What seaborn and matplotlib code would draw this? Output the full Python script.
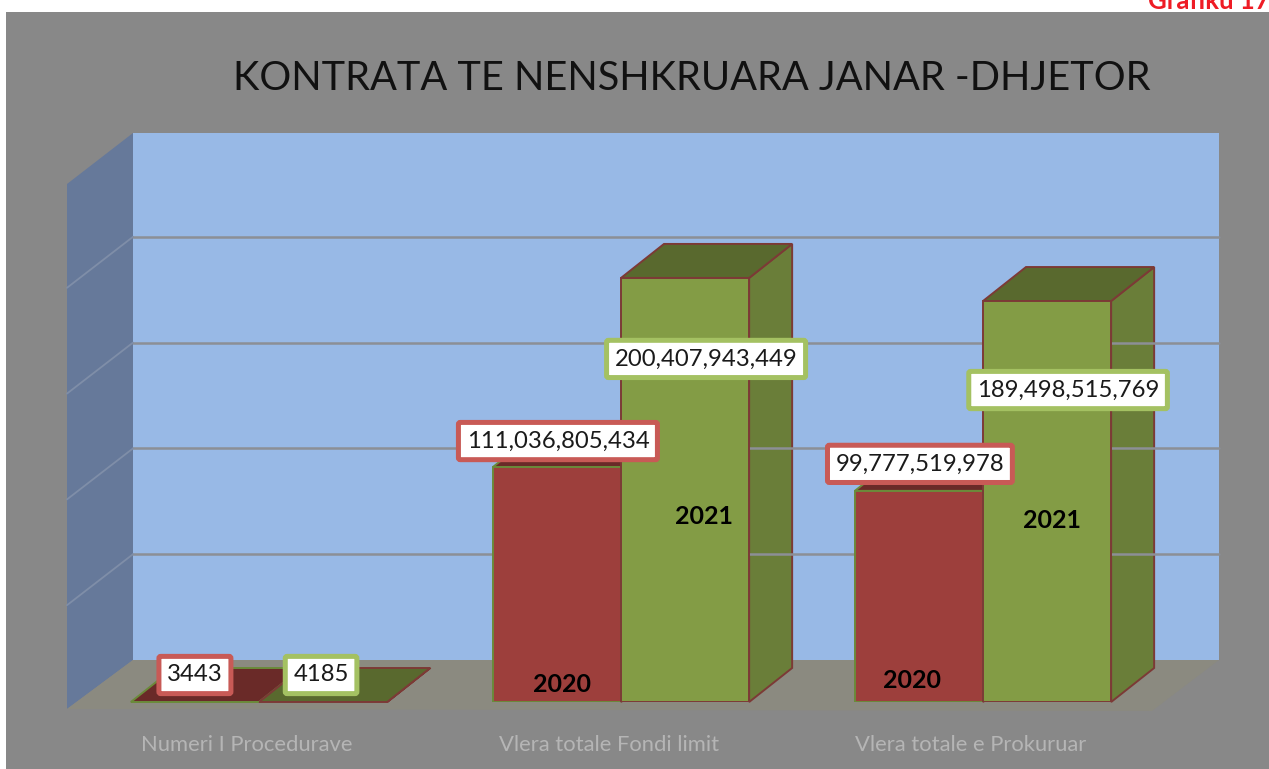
import matplotlib
matplotlib.use("Agg")
import matplotlib.pyplot as plt
from matplotlib.patches import Polygon, Rectangle
from matplotlib.transforms import ScaledTranslation
import pandas as pd
import seaborn as sns

# ===== datos =====
CATEGORIAS = ["Numeri I Procedurave", "Vlera totale Fondi limit", "Vlera totale e Prokuruar"]
VALORES_2020 = [3443, 111036805434, 99777519978]
VALORES_2021 = [4185, 200407943449, 189498515769]
ETIQUETAS_2020 = ["3443", "111,036,805,434", "99,777,519,978"]
ETIQUETAS_2021 = ["4185", "200,407,943,449", "189,498,515,769"]
TITULO = "KONTRATA TE NENSHKRUARA JANAR -DHJETOR"
GRAFIKU = "Grafiku 17"
Y_TICKS = [50e9, 100e9, 150e9, 200e9]

# ===== estilo / layout (en pixeles de la imagen) =====
W, H = 1269, 769
GRIS = "#888888"
PROF = (43, -34)        # profundidad de las barras
PARED = (133, 660, 1219)  # pared del fondo: x izq, y piso, x der
COL = {"2020": "#9d3f3c", "2021": "#839c45"}
TOP = {"2020": "#6a2a28", "2021": "#59692e"}
SIDE = {"2020": "#7e3230", "2021": "#6a7e39"}
BORDE = {"2020": "#6b8a3a", "2021": "#7c3a36"}
CAJA = {"2020": "#c85a56", "2021": "#a4c162"}
# desplazamiento de cada etiqueta respecto al tope de su barra
OFF_2020 = [(0, 27), (1, 26), (1, 27)]
OFF_2021 = [(-2, 27), (21, -81), (21, -89)]
# desplazamiento del nombre de la serie respecto a la base (barras grandes)
SERIE_2020 = [None, (5, 18), (-7, 22)]
SERIE_2021 = [None, (19, 185), (5, 181)]

sns.set_style("white")
plt.rcParams["font.family"] = ["Lato", "DejaVu Sans"]

fig = plt.figure(figsize=(W / 100, H / 100), dpi=100, facecolor="white")

# fondo en coordenadas de pixel
bg = fig.add_axes([0, 0, 1, 1], zorder=0)
bg.set_xlim(0, W); bg.set_ylim(H, 0); bg.axis("off")
bg.add_patch(Rectangle((6, 12), W - 6, H - 12, fc=GRIS, ec="none"))

# barras frontales: el eje va de 0 a 250e9 => 2.116 px por cada 1e9
ax = fig.add_axes([78 / W, (H - 702) / H, 1086 / W, 529 / H], zorder=1)
ax.patch.set_visible(False)
df = pd.DataFrame({
    "categoria": CATEGORIAS * 2,
    "valor": VALORES_2020 + VALORES_2021,
    "anio": ["2020"] * 3 + ["2021"] * 3,
})
sns.barplot(data=df, x="categoria", y="valor", hue="anio", palette=COL, width=0.708,
            gap=0, saturation=1, legend=False, ax=ax)
ax.set_ylim(0, 250e9)
ax.set_xlim(-0.5, 2.5)
ax.set_xlabel(""); ax.set_ylabel(""); ax.set_yticks([])
sns.despine(ax=ax, left=True, bottom=True)
ax.tick_params(axis="x", length=0, pad=24, labelcolor="#b5b5b5", labelsize=15.8)
for lab in ax.get_xticklabels():
    lab.set_transform(lab.get_transform() + ScaledTranslation(-0.12, 0, fig.dpi_scale_trans))


def a_pixel(x, y):
    px, py = ax.transData.transform((x, y))
    return px, H - py


# paredes y piso
xi, yp, xd = PARED
bg.add_patch(Rectangle((xi, 133), xd - xi, yp - 133, fc="#98b9e6", ec="none"))
bg.add_patch(Polygon([(67, 184), (xi, 133), (xi, yp), (67, 709)], fc="#66799a", ec="none"))
bg.add_patch(Polygon([(67, 709), (xi, yp), (xd, yp), (1152, 711)], fc="#8b8a80", ec="none"))
for v in Y_TICKS:
    alto = a_pixel(0, 0)[1] - a_pixel(0, v)[1]
    y = yp - alto
    bg.plot([xi, xd], [y, y], color="#8c8f96", lw=1.8)
    bg.plot([67, xi], [y + 51, y], color="#7f8ea8", lw=1.3)

# caras 3D calculadas a partir de cada barra que dibujó seaborn
anios = ["2020"] * 3 + ["2021"] * 3
barras = sorted(zip(ax.patches, anios), key=lambda b: b[0].get_x())
for barra, anio in barras:
    barra.set_edgecolor(BORDE[anio]); barra.set_linewidth(1.4)
    x0, ybase = a_pixel(barra.get_x(), 0)
    x1, ytop = a_pixel(barra.get_x() + barra.get_width(), barra.get_height())
    dx, dy = PROF
    bg.add_patch(Polygon([(x1, ytop), (x1 + dx, ytop + dy), (x1 + dx, ybase + dy), (x1, ybase)],
                         fc=SIDE[anio], ec=BORDE["2021"], lw=1.4))
    bg.add_patch(Polygon([(x0, ytop), (x0 + dx, ytop + dy), (x1 + dx, ytop + dy), (x1, ytop)],
                         fc=TOP[anio], ec=BORDE[anio], lw=1.4))

# etiquetas
series = [("2020", ETIQUETAS_2020, OFF_2020, SERIE_2020), ("2021", ETIQUETAS_2021, OFF_2021, SERIE_2021)]
for anio, etiquetas, offs, serie in series:
    pares = [p for p, a in zip(ax.patches, anios) if a == anio]
    for barra, texto, off, s in zip(pares, etiquetas, offs, serie):
        cx = barra.get_x() + barra.get_width() / 2
        ax.annotate(texto, xy=(cx, barra.get_height()), xytext=off, textcoords="offset pixels",
                    ha="center", va="center", fontsize=17.2, color="#1a1a1a", annotation_clip=False, zorder=5,
                    bbox=dict(boxstyle="round,pad=0.34,rounding_size=0.08", fc="white", ec=CAJA[anio], lw=3.6))
        if s is not None:
            ax.annotate(anio, xy=(cx, 0), xytext=s, textcoords="offset pixels", ha="center", va="center",
                        fontsize=18, fontweight="bold", color="black", zorder=4)

bg.text(692, 78, TITULO, ha="center", va="center", fontsize=28.6, color="#111111")
bg.text(1148, 9, GRAFIKU, ha="left", va="baseline", fontsize=18.5, fontweight="bold", color="#ee1c25")

fig.savefig("out.png", dpi=100)
